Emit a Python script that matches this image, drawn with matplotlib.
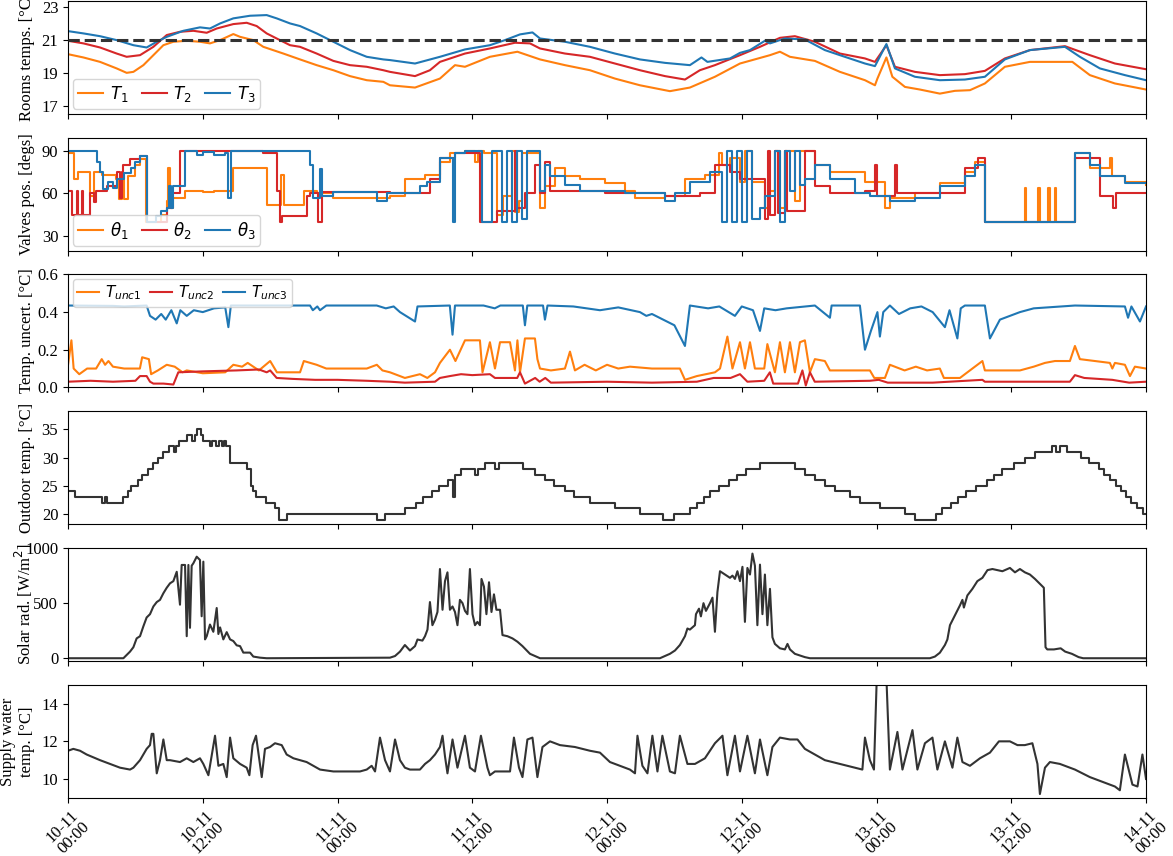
import numpy as np
import matplotlib
matplotlib.use("Agg")
import matplotlib.pyplot as plt

plt.rcParams['font.family'] = ['Liberation Serif', 'DejaVu Serif']
plt.rcParams['mathtext.fontset'] = 'dejavusans'

# ---- data (x in hours from 10-11 00:00) ----
xticks_h = [0, 12, 24, 36, 48, 60, 72, 84, 96]
xtick_labels = ["10-11\n00:00", "10-11\n12:00", "11-11\n00:00", "11-11\n12:00",
                "12-11\n00:00", "12-11\n12:00", "13-11\n00:00", "13-11\n12:00",
                "14-11\n00:00"]
t_set = 21

t1_h = [0, 1.37, 2.85, 4.33, 5.22, 5.82, 6.71, 7.6, 8.49, 9.38, 10.57, 11.75, 12.64, 13.54,
        14.72, 15.32, 15.91, 16.5, 17.39, 19.17, 20.66, 22.14, 23.63, 25.11, 26.6, 28.08,
        28.67, 30.9, 33.12, 34.46, 35.35, 37.57, 40.02, 42.03, 44.25, 46.48, 48.7, 50.93,
        53.6, 55.38, 57.61, 59.84, 62.51, 63.4, 64.29, 66.51, 68.74, 70.97, 71.86, 72.08,
        72.88, 73.41, 74.53, 75.86, 77.64, 78.98, 80.32, 81.65, 83.43, 85.66, 89.44, 91.0,
        93.23, 96.0]
t1_v = [20.14, 19.94, 19.67, 19.27, 19.0, 19.06, 19.47, 20.08, 20.69, 20.9, 20.96, 20.9, 20.8,
        21.0, 21.37, 21.2, 21.1, 21.0, 20.59, 20.18, 19.82, 19.47, 19.16, 18.8, 18.55, 18.45,
        18.24, 18.1, 18.65, 19.47, 19.37, 19.98, 20.29, 19.82, 19.47, 19.16, 18.65, 18.24,
        17.88, 18.1, 18.76, 19.57, 20.08, 20.29, 19.98, 19.73, 19.06, 18.55, 18.24, 18.65,
        19.94, 18.76, 18.14, 17.98, 17.73, 17.9, 17.94, 18.35, 19.37, 19.67, 19.67, 18.86,
        18.35, 17.98]

t2_h = [0, 1.37, 2.85, 4.33, 5.22, 6.41, 7.6, 8.79, 9.97, 11.16, 12.35, 13.24, 14.72, 15.91,
        16.8, 17.69, 18.58, 19.77, 20.66, 22.14, 23.63, 25.11, 26.6, 28.08, 28.67, 30.9, 32.23,
        33.12, 35.35, 37.57, 39.8, 41.14, 42.03, 44.25, 46.48, 48.7, 50.93, 53.16, 54.94,
        56.27, 57.61, 59.84, 61.62, 63.4, 64.73, 66.51, 68.74, 70.97, 71.86, 72.88, 73.64,
        75.42, 77.64, 79.87, 81.65, 83.43, 85.66, 88.78, 91.0, 93.23, 96.0]
t2_v = [20.96, 20.8, 20.55, 20.18, 19.98, 20.08, 20.59, 21.31, 21.51, 21.57, 21.45, 21.71,
        21.98, 22.06, 21.86, 21.41, 21.1, 20.69, 20.59, 20.18, 19.73, 19.47, 19.37, 19.16,
        19.06, 18.8, 19.16, 19.67, 20.18, 20.49, 20.84, 20.8, 20.49, 20.18, 19.98, 19.57,
        19.16, 18.8, 18.59, 19.16, 19.47, 20.08, 20.59, 21.14, 21.24, 20.9, 20.18, 19.88,
        19.67, 20.69, 19.37, 19.06, 18.86, 18.92, 19.12, 19.88, 20.39, 20.63, 20.08, 19.57,
        19.22]

t3_h = [0, 1.37, 2.85, 4.33, 5.82, 7.0, 7.9, 8.79, 10.27, 11.75, 12.64, 13.54, 14.72, 16.21,
        17.69, 18.58, 19.77, 20.66, 22.14, 23.63, 25.11, 26.6, 28.08, 28.67, 30.9, 33.12,
        35.35, 37.57, 38.91, 40.25, 41.36, 42.03, 44.25, 46.48, 48.7, 50.93, 53.16, 55.38,
        56.41, 56.94, 58.95, 59.84, 60.73, 62.06, 62.51, 63.84, 65.62, 67.4, 68.74, 70.97,
        71.86, 72.88, 73.64, 75.42, 77.64, 79.87, 81.65, 83.43, 85.66, 88.78, 90.11, 91.89,
        94.12, 96.0]
t3_v = [21.55, 21.41, 21.24, 21.0, 20.69, 20.55, 20.9, 21.2, 21.57, 21.78, 21.71, 22.02, 22.33,
        22.49, 22.53, 22.33, 22.02, 21.86, 21.41, 20.9, 20.39, 19.98, 19.82, 19.78, 19.57,
        19.98, 20.43, 20.69, 21.0, 21.35, 21.47, 21.1, 20.9, 20.59, 20.18, 19.82, 19.61,
        19.47, 19.94, 19.67, 19.88, 20.22, 20.39, 20.96, 20.8, 21.1, 21.04, 20.39, 20.08,
        19.57, 19.41, 20.76, 19.27, 18.76, 18.55, 18.59, 18.76, 19.82, 20.39, 20.59, 19.98,
        19.27, 18.86, 18.55]

th1_h = [0, 0.5, 0.9, 2.0, 2.3, 3.0, 4.3, 4.5, 4.8, 5.0, 5.3, 6.0, 6.4, 6.9, 8.3, 8.79, 8.9,
         9.1, 9.38, 10.4, 12.0, 13.0, 14.72, 17.0, 17.69, 19.0, 19.2, 21.0, 22.14, 23.63,
         28.67, 30.0, 31.78, 33.12, 34.0, 35.35, 36.2, 36.5, 37.04, 38.24, 38.7, 39.58, 39.8,
         40.2, 40.47, 42.03, 42.5, 43.36, 44.25, 45.59, 47.81, 49.6, 50.5, 53.16, 54.94,
         56.72, 58.0, 58.28, 58.95, 59.84, 60.3, 60.95, 62.06, 62.5, 62.95, 63.4, 63.84,
         64.73, 65.18, 66.51, 67.85, 70.97, 72.75, 73.19, 75.42, 77.64, 79.87, 80.76, 81.65,
         85.2, 85.35, 86.4, 86.55, 87.3, 87.45, 87.85, 88.0, 89.67, 91.0, 92.78, 92.95,
         94.12, 96.0]
th1_v = [88, 70, 75, 58, 75, 73, 70, 56, 72, 56, 72, 80, 84, 40, 45, 55, 78,
         50, 57, 62, 61, 62, 78, 78, 52, 73, 52, 62, 60, 57,
         58, 70, 73, 82, 88, 90, 82, 90, 88, 45, 58, 90, 47,
         55, 88, 50, 65, 78, 72, 70, 67, 62, 57, 58, 70,
         73, 88, 80, 85, 68, 90, 68, 50, 62, 90, 50, 90,
         55, 90, 80, 75, 68, 50, 57, 60, 67, 75, 82, 40,
         64, 40, 64, 40, 64, 40, 64, 40, 88, 78, 85, 72,
         68, 66]

th2_h = [0, 0.33, 0.77, 0.9, 1.22, 1.35, 1.96, 2.3, 2.5, 3.5, 4.33, 4.6, 4.8, 4.93, 5.52,
         6.41, 7.0, 8.79, 9.3, 9.97, 17.39, 18.58, 18.88, 19.03, 21.25, 21.55, 22.29, 22.59,
         28.67, 32.23, 33.12, 34.46, 36.7, 38.24, 39.8, 40.02, 40.7, 41.6, 42.0, 42.5, 42.9,
         47.81, 53.16, 56.27, 57.61, 58.95, 59.84, 62.06, 62.3, 62.5, 63.0, 63.2, 63.84, 64.0,
         65.6, 66.51, 67.85, 70.97, 71.9, 72.0, 73.64, 73.8, 79.5, 79.87, 81.0, 81.65, 89.67,
         91.89, 93.1, 93.3, 96.0]
th2_v = [62, 45, 62, 45, 62, 45, 60, 54, 62, 65, 75, 57, 75, 80, 84,
         86, 40, 50, 60, 90, 88, 62, 40, 44, 58, 60, 40, 61,
         60, 70, 85, 88, 40, 48, 90, 50, 60, 80, 60, 82, 62,
         60, 58, 60, 80, 75, 70, 42, 90, 45, 90, 46, 90, 48,
         90, 65, 60, 62, 80, 58, 80, 60, 60, 78, 85, 40, 85,
         58, 50, 60, 60]

th3_h = [0, 2.55, 2.85, 3.15, 3.6, 4.0, 4.33, 5.0, 5.6, 6.0, 6.41, 7.0, 7.8, 8.3, 8.79, 9.0,
         9.2, 9.38, 10.42, 11.5, 12.0, 13.0, 14.0, 14.28, 14.5, 21.55, 21.85, 22.44, 22.6,
         23.63, 27.49, 28.38, 31.34, 32.0, 33.12, 34.24, 34.46, 35.35, 36.91, 37.8, 38.69,
         39.13, 39.58, 40.02, 40.47, 40.91, 42.03, 42.5, 42.92, 44.25, 45.59, 49.6, 53.16,
         54.05, 55.38, 57.17, 58.28, 58.72, 59.17, 59.61, 60.06, 60.5, 60.95, 61.62, 62.06,
         62.95, 63.4, 63.84, 64.29, 64.73, 65.18, 65.62, 66.51, 67.85, 70.08, 71.41, 73.19,
         75.42, 77.64, 79.87, 80.76, 81.65, 89.67, 91.0, 91.89, 94.12, 96.0]
th3_v = [90, 82, 75, 63, 68, 64, 70, 74, 78, 82, 86, 40, 44, 48, 50, 65,
         50, 65, 90, 87, 89, 87, 88, 57, 90, 80, 57, 77, 58,
         61, 55, 60, 65, 68, 85, 40, 88, 90, 40, 90, 40,
         90, 40, 90, 42, 90, 62, 80, 72, 66, 62, 60, 55,
         60, 68, 75, 40, 90, 40, 90, 40, 90, 42, 50, 58,
         90, 40, 90, 62, 90, 66, 70, 80, 70, 60, 58, 55,
         57, 65, 72, 80, 40, 88, 80, 72, 67, 67]

u1_h = [0, 0.3, 0.5, 1.0, 1.7, 2.5, 3.0, 3.3, 3.6, 4.0, 5.0, 6.4, 6.6, 7.2, 7.4, 8.0, 8.79,
        9.5, 10.2, 10.57, 12.0, 14.0, 14.72, 15.5, 16.0, 17.0, 18.0, 18.6, 20.66, 21.0, 22.14,
        23.0, 26.6, 27.5, 28.0, 28.67, 30.0, 31.34, 32.0, 32.68, 33.12, 34.01, 34.5, 35.35,
        36.68, 36.91, 37.57, 38.02, 38.47, 39.36, 39.8, 40.02, 40.25, 40.69, 41.58, 41.8,
        42.03, 43.0, 44.25, 44.7, 45.14, 46.0, 47.0, 48.0, 49.0, 50.04, 52.0, 54.49, 54.94,
        56.0, 57.61, 58.06, 58.72, 59.17, 59.84, 60.28, 60.73, 61.17, 62.0, 62.28, 62.95,
        63.4, 63.84, 64.29, 64.73, 65.18, 65.62, 66.07, 66.51, 67.4, 67.85, 71.41, 71.8,
        72.75, 73.19, 74.5, 75.5, 76.5, 77.64, 78.0, 79.43, 79.87, 81.43, 81.65, 84.77, 86.0,
        87.0, 87.89, 89.22, 89.67, 90.11, 92.78, 93.0, 93.23, 94.12, 94.57, 95.01, 96.0]
u1_v = [0.12, 0.25, 0.10, 0.07, 0.10, 0.10, 0.15, 0.12, 0.14, 0.11, 0.10, 0.10, 0.16, 0.15,
        0.07, 0.09, 0.12, 0.11, 0.08, 0.09, 0.075, 0.08, 0.12, 0.11, 0.13, 0.09, 0.14, 0.08,
        0.08, 0.14, 0.12, 0.10, 0.10, 0.12, 0.09, 0.08, 0.05, 0.07, 0.05, 0.08, 0.13, 0.20,
        0.14, 0.25, 0.25, 0.08, 0.24, 0.10, 0.24, 0.24, 0.09, 0.25, 0.08, 0.26, 0.26, 0.15,
        0.10, 0.09, 0.10, 0.19, 0.09, 0.12, 0.09, 0.12, 0.10, 0.11, 0.10, 0.10, 0.04, 0.06,
        0.08, 0.10, 0.27, 0.10, 0.24, 0.10, 0.24, 0.10, 0.10, 0.23, 0.08, 0.24, 0.08, 0.24,
        0.08, 0.24, 0.25, 0.08, 0.15, 0.14, 0.09, 0.09, 0.05, 0.05, 0.12, 0.09, 0.11, 0.09,
        0.10, 0.05, 0.05, 0.07, 0.14, 0.09, 0.09, 0.11, 0.13, 0.14, 0.14, 0.22, 0.15, 0.13,
        0.10, 0.13, 0.12, 0.06, 0.11, 0.10]

u2_h = [0, 2.0, 4.0, 6.0, 6.41, 7.0, 7.3, 7.6, 8.5, 9.38, 9.82, 12.0, 15.0, 17.0, 17.69, 18.0,
        18.58, 20.0, 22.0, 24.0, 26.6, 28.67, 30.0, 32.68, 33.12, 34.01, 35.0, 36.0, 37.57,
        38.02, 40.0, 40.25, 40.69, 41.6, 42.0, 42.5, 43.0, 48.0, 52.0, 56.0, 57.5, 59.0,
        59.84, 60.5, 62.0, 62.5, 62.8, 65.0, 65.4, 65.7, 66.07, 66.5, 71.41, 72.2, 73.0,
        77.0, 81.43, 81.65, 89.22, 89.67, 90.5, 93.0, 94.5, 96.0]
u2_v = [0.03, 0.035, 0.03, 0.035, 0.06, 0.06, 0.03, 0.02, 0.02, 0.015, 0.08, 0.085, 0.09,
        0.095, 0.08, 0.09, 0.05, 0.045, 0.04, 0.04, 0.035, 0.03, 0.025, 0.03, 0.05, 0.06,
        0.07, 0.065, 0.07, 0.05, 0.05, 0.08, 0.02, 0.05, 0.03, 0.05, 0.025, 0.03, 0.025,
        0.03, 0.05, 0.05, 0.07, 0.03, 0.035, 0.08, 0.02, 0.02, 0.09, 0.01, 0.08, 0.03,
        0.035, 0.04, 0.025, 0.025, 0.04, 0.03, 0.03, 0.065, 0.05, 0.04, 0.025, 0.03]

u3_h = [0, 4.0, 5.0, 7.0, 7.3, 7.8, 8.3, 8.7, 9.2, 9.68, 10.0, 10.57, 11.2, 12.0, 13.0, 14.0,
        14.28, 14.5, 21.55, 21.8, 22.2, 22.44, 23.0, 27.49, 28.3, 29.0, 29.56, 30.9, 31.12,
        34.0, 34.24, 34.46, 37.0, 38.0, 38.5, 40.5, 40.69, 40.9, 42.3, 42.47, 42.7, 45.0,
        47.37, 49.0, 50.93, 51.5, 52.0, 53.0, 54.0, 54.94, 55.38, 57.0, 58.0, 59.39, 60.0,
        61.0, 61.62, 62.0, 63.0, 64.0, 66.51, 67.85, 68.0, 70.52, 70.97, 71.5, 72.08, 72.3,
        72.6, 73.19, 74.0, 75.0, 76.0, 77.0, 78.09, 78.5, 79.2, 79.5, 79.87, 81.65, 82.1,
        82.99, 84.77, 86.0, 89.67, 94.12, 94.4, 94.7, 95.46, 96.0]
u3_v = [0.435, 0.433, 0.43, 0.435, 0.38, 0.36, 0.39, 0.36, 0.41, 0.34, 0.41, 0.38, 0.41,
        0.40, 0.42, 0.425, 0.32, 0.435, 0.435, 0.41, 0.43, 0.41, 0.435, 0.435, 0.42, 0.43,
        0.40, 0.35, 0.43, 0.435, 0.28, 0.435, 0.435, 0.42, 0.435, 0.435, 0.33, 0.435, 0.435,
        0.36, 0.435, 0.43, 0.41, 0.425, 0.40, 0.38, 0.39, 0.36, 0.33, 0.22, 0.435, 0.42,
        0.43, 0.38, 0.43, 0.41, 0.30, 0.42, 0.41, 0.42, 0.435, 0.37, 0.435, 0.435, 0.20,
        0.30, 0.40, 0.27, 0.40, 0.435, 0.39, 0.42, 0.43, 0.40, 0.32, 0.41, 0.26, 0.42,
        0.435, 0.435, 0.26, 0.36, 0.40, 0.42, 0.435, 0.43, 0.37, 0.43, 0.35, 0.43]

out_h = [0, 0.6, 3.0, 3.3, 3.5, 4.9, 5.3, 5.6, 6.2, 6.6, 7.1, 7.6, 8.0, 8.5, 9.0, 9.4, 9.6,
         9.9, 10.6, 11.0, 11.3, 11.5, 11.8, 12.0, 12.6, 12.8, 13.2, 13.4, 13.7, 13.9, 14.1,
         14.4, 15.9, 16.3, 16.5, 16.7, 17.6, 18.4, 18.8, 19.5, 27.5, 28.2, 30.0, 31.0, 31.6,
         32.4, 33.0, 33.8, 34.3, 34.5, 35.0, 36.2, 36.5, 37.1, 38.0, 38.4, 40.5, 41.6, 42.5,
         43.3, 44.3, 45.1, 46.5, 48.7, 50.9, 53.0, 54.0, 55.4, 56.0, 56.6, 57.2, 58.0, 58.9,
         59.6, 60.4, 61.6, 64.7, 65.6, 66.5, 67.4, 68.3, 69.6, 70.5, 72.3, 74.5, 75.4, 77.3,
         77.8, 78.6, 79.3, 80.0, 80.9, 81.8, 82.5, 83.2, 84.2, 85.2, 86.1, 87.6, 88.0, 88.3,
         89.0, 90.2, 90.9, 91.8, 92.3, 92.8, 93.3, 93.8, 94.2, 94.7, 95.2, 95.7, 96.0]
out_v = [24, 23, 22, 23, 22, 23, 24, 25, 26, 27, 28, 29, 30, 31, 32, 31, 32,
         33, 34, 33, 34, 35, 34, 33, 32, 33, 32, 33, 32, 33, 32,
         29, 28, 25, 24, 23, 22, 21, 19, 20, 19, 20, 21, 22, 23,
         24, 25, 26, 23, 27, 28, 27, 28, 29, 28, 29, 28, 27, 26,
         25, 24, 23, 22, 21, 20, 19, 20, 21, 22, 23, 24, 25, 26,
         27, 28, 29, 28, 27, 26, 25, 24, 23, 22, 21, 20, 19, 20,
         21, 22, 23, 24, 25, 26, 27, 28, 29, 30, 31, 32, 31, 32,
         31, 30, 29, 28, 27, 26, 25, 24, 23, 22, 21, 20, 20]

sol_h = [0, 4.93, 5.22, 5.52, 5.82, 6.11, 6.41, 6.71, 7.0, 7.3, 7.6, 7.9, 8.19, 8.49, 8.79,
         9.08, 9.38, 9.68, 9.97, 10.12, 10.42, 10.57, 10.72, 10.86, 11.01, 11.16, 11.46,
         11.75, 11.9, 12.05, 12.2, 12.35, 12.64, 12.94, 13.24, 13.39, 13.54, 13.83, 14.13,
         14.43, 14.72, 15.02, 15.32, 15.61, 16.21, 16.5, 17.1, 17.69,
         28.67, 29.12, 29.56, 30.0, 30.45, 30.9, 31.12, 31.56, 31.79, 32.01, 32.23, 32.45,
         32.68, 32.9, 33.12, 33.35, 33.57, 33.79, 34.01, 34.24, 34.46, 34.68, 34.9, 35.13,
         35.35, 35.57, 35.79, 36.02, 36.24, 36.46, 36.68, 36.82, 37.04, 37.26, 37.49, 37.71,
         37.93, 38.15, 38.47, 38.69, 39.13, 39.58, 40.02, 40.47, 41.14, 42.03,
         52.71, 53.16, 53.6, 54.05, 54.49, 54.94, 55.16, 55.38, 55.83, 55.92, 56.19, 56.36,
         56.59, 56.81, 57.17, 57.39, 57.61, 57.83, 58.06, 58.5, 58.95, 59.17, 59.39, 59.61,
         59.84, 60.06, 60.28, 60.5, 60.73, 60.95, 61.17, 61.39, 61.62, 61.84, 62.06, 62.28,
         62.51, 62.73, 62.95, 63.4, 63.84, 64.07, 64.29, 64.73, 65.62, 66.07,
         76.75, 77.2, 77.64, 78.09, 78.31, 78.54, 78.98, 79.43, 79.65, 79.78, 80.09, 80.54,
         80.98, 81.43, 81.88, 82.32, 82.77, 83.21, 83.88, 84.33, 84.77, 85.21, 85.66, 86.11,
         86.5, 86.9, 87.05, 87.2, 87.8, 88.4, 88.8, 89.4, 90.0, 90.4, 96.0]
sol_v = [0, 0, 30, 60, 100, 180, 200, 290, 370, 400, 470, 510, 530, 590, 640,
         680, 700, 785, 486, 847, 847, 200, 847, 276, 840, 862, 922,
         892, 381, 877, 171, 200, 306, 240, 456, 220, 280, 171, 237,
         171, 156, 117, 110, 51, 51, 15, 5, 0,
         5, 20, 60, 120, 70, 110, 170, 160, 200, 260, 510, 300,
         350, 420, 810, 440, 700, 780, 440, 470, 420, 300, 530, 500,
         430, 400, 810, 400, 300, 330, 300, 720, 650, 400, 690, 420,
         580, 440, 440, 210, 200, 180, 150, 110, 40, 0,
         0, 20, 40, 70, 120, 200, 270, 260, 300, 400, 450, 380,
         500, 430, 500, 550, 240, 600, 790, 760, 730, 750, 720, 790,
         700, 830, 330, 820, 760, 950, 840, 300, 850, 400, 760, 300,
         630, 190, 130, 90, 80, 130, 80, 40, 10, 0,
         0, 15, 50, 120, 170, 300, 390, 480, 530, 460, 570, 630,
         700, 730, 800, 810, 800, 790, 820, 780, 810, 780, 760, 720,
         680, 640, 100, 80, 80, 90, 60, 40, 10, 0, 0]

sw_h = [0, 0.47, 1.07, 1.66, 2.85, 3.74, 4.63, 5.52, 5.82, 6.41, 7.0, 7.3, 7.45, 7.6, 7.9,
        8.19, 8.49, 8.79, 9.08, 9.97, 10.57, 11.16, 11.75, 12.05, 12.5, 13.09, 13.39, 13.83,
        14.13, 14.43, 14.72, 15.32, 15.91, 16.15, 16.44, 16.74, 17.25, 17.54, 17.99, 18.43,
        19.03, 19.47, 20.07, 21.25, 22.44, 23.63, 25.11, 26.0, 26.6, 27.04, 27.34, 27.78,
        28.23, 28.67, 29.12, 29.56, 30.0, 30.45, 31.34, 31.79, 32.23, 32.68, 33.12, 33.35,
        33.57, 33.79, 34.24, 34.68, 35.35, 35.79, 36.24, 36.77, 37.35, 37.57, 38.02, 38.91,
        39.36, 39.71, 40.16, 40.47, 40.91, 41.36, 41.8, 42.25, 42.92, 43.81, 45.14, 46.48,
        47.37, 48.26, 49.15, 50.04, 50.49, 50.71, 51.15, 51.6, 52.04, 52.49, 52.93, 53.6,
        54.05, 54.49, 55.16, 55.83, 56.72, 57.61, 58.28, 58.72, 59.39, 59.84, 60.5, 61.17,
        61.62, 62.28, 62.73, 63.4, 64.29, 64.96, 65.62, 66.51, 67.4, 68.74, 70.08, 70.74,
        70.97, 71.41, 71.77, 72.08, 72.52, 72.84, 73.19, 73.86, 74.31, 75.2, 75.64, 76.31,
        76.98, 77.42, 78.09, 78.76, 79.2, 79.65, 80.32, 81.21, 82.1, 82.9, 83.88, 84.55,
        85.21, 85.88, 86.33, 86.55, 87.0, 87.44, 88.33, 89.67, 91.0, 92.34, 93.23, 93.67,
        94.12, 94.79, 95.24, 95.68, 96.0]
sw_v = [11.5, 11.6, 11.5, 11.3, 11.0, 10.8, 10.6, 10.5, 10.6, 11.0, 11.6, 11.8, 12.4, 12.4,
        10.3, 11.0, 12.1, 11.0, 11.0, 10.9, 11.1, 10.9, 11.1, 10.8, 10.2, 12.3, 10.7, 10.8,
        10.1, 12.2, 11.1, 10.8, 10.6, 10.2, 11.8, 12.3, 10.1, 11.6, 11.7, 11.9,
        11.8, 11.3, 11.1, 10.9, 10.5, 10.4, 10.4, 10.4, 10.5, 10.7, 10.4, 12.2,
        11.0, 10.4, 12.1, 11.0, 10.6, 10.5, 10.5, 10.8, 11.0, 11.3, 11.7, 12.3,
        11.2, 10.3, 12.1, 10.6, 12.3, 10.6, 10.4, 12.3, 10.6, 10.2, 10.4, 10.4,
        10.4, 12.2, 10.6, 10.1, 12.1, 12.2, 10.1, 11.7, 12.0, 11.8, 11.7, 11.5,
        11.4, 10.9, 10.7, 10.5, 10.3, 12.3, 10.7, 10.3, 12.3, 10.4, 12.3, 10.4,
        10.3, 12.3, 10.8, 10.8, 11.1, 11.9, 12.3, 10.2, 12.3, 10.4, 12.3, 10.3,
        12.1, 10.2, 11.7, 12.2, 12.1, 12.1, 11.6, 11.3, 11.0, 10.8, 10.6, 10.5,
        12.2, 11.0, 10.5, 16.5, 16.5, 16.0, 10.5, 12.5, 10.5, 12.6, 10.5, 11.9,
        12.2, 10.5, 12.0, 10.6, 12.2, 10.9, 10.7, 11.1, 11.4, 12.0, 12.0, 11.8,
        11.8, 11.9, 10.8, 9.2, 10.6, 10.9, 10.8, 10.5, 10.1, 9.8, 9.6, 9.4,
        11.3, 9.7, 9.6, 11.3, 10.0]

orange, red, blue, dark = '#ff7f0e', '#d62728', '#1f77b4', '#333333'

fig, axs = plt.subplots(6, 1, figsize=(11.73, 8.56), dpi=100, sharex=True)
fig.subplots_adjust(left=0.058, right=0.977, top=0.999, bottom=0.068, hspace=0.212)

leg_kw = dict(ncol=3, fontsize=12, handlelength=1.5, handletextpad=0.4,
              columnspacing=0.8, borderpad=0.3, borderaxespad=0.3, framealpha=0.8)

ax = axs[0]
ax.plot(t1_h, t1_v, color=orange, lw=1.5, label=r'$T_1$')
ax.plot(t2_h, t2_v, color=red, lw=1.5, label=r'$T_2$')
ax.plot(t3_h, t3_v, color=blue, lw=1.5, label=r'$T_3$')
ax.axhline(t_set, color=dark, lw=2.2, ls='--', zorder=5)
ax.set_ylim(16.5, 23.4)
ax.set_yticks([17, 19, 21, 23])
ax.set_ylabel('Rooms temps. [°C]')
ax.legend(loc='lower left', **leg_kw)

ax = axs[1]
ax.plot(th1_h, th1_v, color=orange, lw=1.5, drawstyle='steps-post', label=r'$\theta_1$')
ax.plot(th2_h, th2_v, color=red, lw=1.5, drawstyle='steps-post', label=r'$\theta_2$')
ax.plot(th3_h, th3_v, color=blue, lw=1.5, drawstyle='steps-post', label=r'$\theta_3$')
ax.set_ylim(20, 99)
ax.set_yticks([30, 60, 90])
ax.set_ylabel('Valves pos. [degs]')
ax.legend(loc='lower left', **leg_kw)

ax = axs[2]
ax.plot(u1_h, u1_v, color=orange, lw=1.5, label=r'$T_{unc1}$')
ax.plot(u2_h, u2_v, color=red, lw=1.5, label=r'$T_{unc2}$')
ax.plot(u3_h, u3_v, color=blue, lw=1.5, label=r'$T_{unc3}$')
ax.set_ylim(0, 0.6)
ax.set_yticks([0.0, 0.2, 0.4, 0.6])
ax.set_ylabel('Temp. uncert. [°C]')
ax.legend(loc='upper left', **dict(leg_kw, fontsize=11, handlelength=1.4,
                                   columnspacing=0.6))

ax = axs[3]
ax.plot(out_h, out_v, color=dark, lw=1.5, drawstyle='steps-post')
ax.set_ylim(18.2, 38.2)
ax.set_yticks([20, 25, 30, 35])
ax.set_ylabel('Outdoor temp. [°C]')

ax = axs[4]
ax.plot(sol_h, sol_v, color=dark, lw=1.5)
ax.set_ylim(-25, 1000)
ax.set_yticks([0, 500, 1000])
ax.set_ylabel('Solar rad. [W/m$^2$]')

ax = axs[5]
ax.plot(sw_h, sw_v, color=dark, lw=1.5)
ax.set_ylim(9, 15)
ax.set_yticks([10, 12, 14])
ax.set_ylabel('Supply water\ntemp. [°C]')

# y labels aligned at the same distance from the axes, as in the original
for ax in axs:
    ax.tick_params(labelsize=12)
    ax.yaxis.label.set_size(12)
    ax.yaxis.set_label_coords(-0.031, 0.5)
ax.set_xlim(0, 96)
ax.set_xticks(xticks_h)
ax.set_xticklabels(xtick_labels, rotation=45, fontsize=12, linespacing=0.95)

fig.savefig('out.png', dpi=100)
